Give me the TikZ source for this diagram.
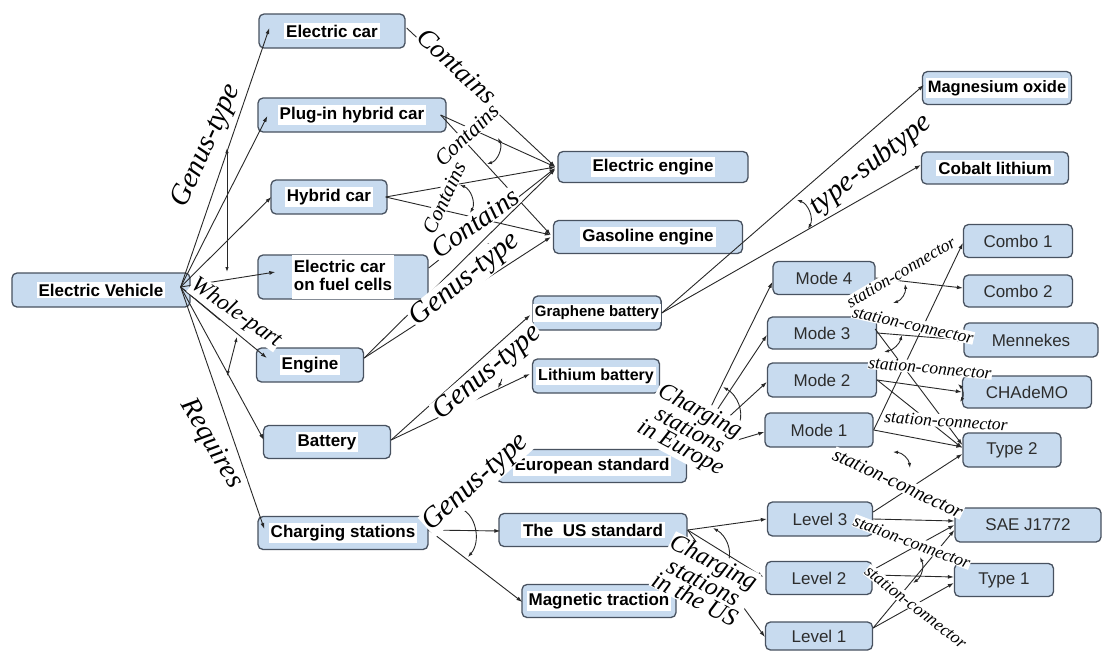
\documentclass[tikz,border=0pt]{standalone}
\usepackage{fontspec}
\setmainfont{Liberation Sans}
\newfontfamily\labfont{Liberation Serif}
\usetikzlibrary{arrows.meta,calc}
\definecolor{boxblue}{RGB}{200,219,239}
\definecolor{boxline}{RGB}{72,82,96}
\definecolor{edgec}{RGB}{40,40,40}
\definecolor{txt}{RGB}{45,45,45}
\setlength{\fboxsep}{2pt}
\newcommand\wt[1]{\colorbox{white}{#1}}
\begin{document}
\begin{tikzpicture}[x=1pt,y=-1pt,
  box/.style={draw=boxline, fill=boxblue, rounded corners=5pt, line width=1.3pt, inner sep=0pt,
    font=\fontsize{17}{22}\selectfont\bfseries, text=black},
  rbox/.style={box, font=\fontsize{17}{20}\selectfont, text=txt},
  edge/.style={draw=edgec, line width=0.9pt, -{Latex[length=6pt,width=4pt]}},
  amark/.style={draw=edgec, line width=0.9pt, {Latex[length=5pt,width=3.5pt]}-{Latex[length=5pt,width=3.5pt]}},
  plain/.style={draw=edgec, line width=0.9pt},
  lab/.style={font=\labfont\itshape\fontsize{#1}{#1}\selectfont, fill=white, inner sep=0.5pt, text=black},
  mlab/.style={font=\labfont\itshape\fontsize{#1}{19}\selectfont, fill=white, inner sep=0.5pt, text=black, align=center},
  ]
\fill[white] (0,0) rectangle (1106,651);
\useasboundingbox (0,0) rectangle (1106,651);

% ---------- nodes ----------
\node[box, minimum width=178pt, minimum height=34pt] (ev) at (101,290) {\wt{Electric Vehicle}};
\node[box, minimum width=146pt, minimum height=34pt] (ecar) at (332,31) {\wt{Electric car}};
\node[box, minimum width=188pt, minimum height=34pt] (plug) at (352,115) {\wt{Plug-in hybrid car}};
\node[box, minimum width=116pt, minimum height=34pt] (hyb) at (329,197) {\wt{Hybrid car}};
\node[box, minimum width=170pt, minimum height=43pt] (fuel) at (343,277) {\wt{\begin{tabular}{@{}l@{}}Electric car\\[-4pt]on fuel cells\end{tabular}}};
\node[box, minimum width=107pt, minimum height=34pt] (engine) at (310,365) {\wt{Engine}};
\node[box, minimum width=127pt, minimum height=33pt] (battery) at (327,442) {\wt{Battery}};
\node[box, minimum width=170pt, minimum height=33pt] (charging) at (343,533) {\wt{Charging stations}};
\node[box, minimum width=190pt, minimum height=31pt] (eeng) at (653,167) {\wt{Electric engine}};
\node[box, minimum width=189pt, minimum height=33pt] (geng) at (648,237) {\wt{Gasoline engine}};
\node[box, minimum width=149pt, minimum height=33pt, font=\fontsize{16.5}{20}\selectfont\bfseries] (mgo) at (997,88) {\wt{Magnesium oxide}};
\node[box, minimum width=147pt, minimum height=32pt] (colith) at (995,168) {\wt{Cobalt lithium}};
\node[box, minimum width=127pt, minimum height=34pt, font=\fontsize{15}{18}\selectfont\bfseries] (graph) at (597,313) {\wt{Graphene battery}};
\node[box, minimum width=127pt, minimum height=34pt, font=\fontsize{16}{19}\selectfont\bfseries] (lith) at (596,376) {\wt{Lithium battery}};
\node[box, minimum width=189pt, minimum height=33pt] (euro) at (592,466) {\wt{European standard}};
\node[box, minimum width=188pt, minimum height=33pt] (us) at (593,530) {\wt{The\ \ US standard}};
\node[box, minimum width=154pt, minimum height=33pt] (mag) at (599,601) {\wt{Magnetic traction}};
\node[rbox, minimum width=102pt, minimum height=33pt] (m4) at (824,278) {Mode 4};
\node[rbox, minimum width=109pt, minimum height=32pt] (m3) at (822,333) {Mode 3};
\node[rbox, minimum width=109pt, minimum height=34pt] (m2) at (822,380) {Mode 2};
\node[rbox, minimum width=108pt, minimum height=34pt] (m1) at (819,430) {Mode 1};
\node[rbox, minimum width=109pt, minimum height=33pt] (c1) at (1018,241) {Combo 1};
\node[rbox, minimum width=109pt, minimum height=32pt] (c2) at (1018,291) {Combo 2};
\node[rbox, minimum width=134pt, minimum height=34pt] (menn) at (1031,340) {Mennekes};
\node[rbox, minimum width=129pt, minimum height=32pt] (cha) at (1027,392) {CHAdeMO};
\node[rbox, minimum width=98pt, minimum height=34pt] (t2) at (1012,450) {Type 2};
\node[rbox, minimum width=146pt, minimum height=34pt] (sae) at (1028,525) {SAE J1772};
\node[rbox, minimum width=99pt, minimum height=33pt] (t1) at (1004,580) {Type 1};
\node[rbox, minimum width=105pt, minimum height=34pt] (l3) at (820,519) {Level 3};
\node[rbox, minimum width=106pt, minimum height=33pt] (l2) at (819,578) {Level 2};
\node[rbox, minimum width=107pt, minimum height=28pt] (l1) at (819,636) {Level 1};

% ---------- connectors ----------
\coordinate (evp) at ($(ev.east)+(-10,-3)$);
\draw[edge] (evp) -- ($(ecar.west)+(11,-3)$);
\draw[edge] (evp) -- ($(plug.west)+(10,1)$);
\draw[edge] (evp) -- ($(hyb.west)+(1,0)$);
\draw[edge] (evp) -- ($(fuel.west)+(18,-5)$);
\draw[edge] (evp) -- ($(engine.west)+(11,-7)$);
\draw[edge] (evp) -- ($(battery.west)+(1,-2)$);
\draw[edge] (evp) -- ($(charging.west)+(7,-4)$);

\draw[edge] ($(ecar.east)+(1,-3)$) -- ($(eeng.west)+(-2,0)$);
\draw[edge] ($(plug.east)+(-6,0)$) -- ($(eeng.west)+(-2,0)$);
\draw[edge] ($(plug.east)+(-6,0)$) -- ($(geng.west)+(-2,-2)$);
\draw[edge] ($(hyb.east)+(-2,0)$) -- ($(eeng.west)+(-2,0)$);
\draw[edge] ($(hyb.east)+(-2,0)$) -- ($(geng.west)+(-2,-2)$);
\draw[edge] ($(fuel.east)+(0,-9)$) -- ($(eeng.west)+(-2,1)$);
\draw[edge] ($(engine.east)+(0,-7)$) -- ($(eeng.west)+(-2,2)$);
\draw[edge] ($(engine.east)+(0,-7)$) -- ($(geng.west)+(-2,0)$);

\draw[edge] ($(battery.east)+(0,-2)$) -- ($(graph.west)+(-2,2)$);
\draw[edge] ($(battery.east)+(0,-2)$) -- ($(lith.west)+(-2,-2)$);
\draw[edge] (graph.east) -- ($(mgo.west)+(2,-3)$);
\draw[edge] (graph.east) -- ($(colith.west)+(0,-3)$);

\draw[edge] ($(charging.east)+(0,-3)$) -- ($(euro.west)+(3,4)$);
\draw[edge] ($(charging.east)+(0,-3)$) -- ($(us.west)+(2,1)$);
\draw[edge] ($(charging.east)+(0,-3)$) -- ($(mag.west)+(1,1)$);

\coordinate (eup) at ($(euro.east)+(0,-11)$);
\draw[edge] (eup) -- ($(m4.west)+(0,4)$);
\draw[edge] (eup) -- ($(m3.west)+(0,2)$);
\draw[edge] (eup) -- ($(m2.west)+(0,2)$);
\draw[edge] (eup) -- ($(m1.west)+(0,2)$);
\draw[edge] ($(euro.east)+(14,-24)$) -- ($(euro.east)+(1,-1)$);

\draw[edge] (us.east) -- (l3.west);
\draw[edge] (us.east) -- ($(l2.west)+(-2,-1)$);
\draw[edge] (us.east) -- ($(l1.west)+(0,1)$);

% station - connector
\draw[edge] (m4.east) -- ($(c2.west)+(0,-3)$);
\draw[edge] (m1.east) -- ($(c1.west)+(0,2)$);
\draw[edge] (m3.east) -- (menn.west);
\draw[edge] (m2.east) -- (cha.west);
\draw[edge] (m2.east) -- ($(t2.west)+(0,-2)$);
\draw[edge] (m1.east) -- ($(t2.west)+(0,-3)$);
\draw[edge] ($(m3.east)+(-2,-4)$) -- ($(t2.west)+(0,-5)$);
\draw[edge] ($(l3.east)+(0,-7)$) -- ($(t2.west)+(0,4)$);
\draw[edge] (l3.east) -- ($(sae.west)+(0,-4)$);
\draw[edge] ($(l2.east)+(0,-8)$) -- (sae.west);
\draw[edge] ($(l2.east)+(0,-3)$) -- ($(t1.west)+(0,-3)$);
\draw[edge] ($(l1.east)+(0,-8)$) -- ($(t1.west)+(0,3)$);
\draw[edge] ($(l1.east)+(0,-8)$) -- ($(sae.west)+(0,5)$);

% ---------- angle marks ----------
\draw[amark] (227,148) -- (227,272);
\draw[plain] (evp) -- (220,320);
\draw[amark] (237,337) -- (227,376);
\draw[amark] (498,138) to[bend left=50] (487,164);
\draw[amark] (460,185) to[bend left=50] (470,213);
\draw[amark] (487,243) to[bend left=40] (497,270);
\draw[amark] (490,353) to[bend left=40] (498,388);
\draw[amark] (797,200) to[bend left=50] (808,229);
\draw[amark] (460,508) to[bend left=50] (468,557);
\draw[amark] (723,387) to[bend left=40] (738,427);
\draw[amark] (713,528) to[bend left=40] (727,565);
\draw[amark] (905,284) to[bend left=40] (893,303);
\draw[amark] (902,335) to[bend left=30] (884,352);
\draw[amark] (893,452) to[bend left=40] (910,468);
\draw[amark] (920,557) to[bend left=40] (913,583);
\draw[amark] (958,384) to[bend left=40] (960,402);

% ---------- labels ----------
\node[lab=29, rotate=65.7] (lgen1) at (207,146) {Genus-type};
\node[lab=23, rotate=-35] (lwp) at (236,313) {Whole-part};
\node[lab=28, rotate=-59.4] (lreq) at (211,444) {Requires};
\node[lab=27, rotate=-42.5] (lcon1) at (457,66) {Contains};
\node[lab=22, rotate=44] (lcon2) at (467,135) {Contains};
\node[lab=21, rotate=65] (lcon3) at (444,198) {Contains};
\node[lab=28, rotate=35.5] (lcon4) at (475,223) {Contains};
\node[lab=29, rotate=39] (lgen2) at (465,280) {Genus-type};
\node[lab=29, rotate=40] (lgen3) at (488,373) {Genus-type};
\node[lab=29, rotate=42] (lgen4) at (476,483) {Genus-type};
\node[lab=29, rotate=38] (lts) at (871,165) {type-subtype};
\node[mlab=24, rotate=-28] (leu) at (690,430) {Charging\\stations\\in Europe};
\node[mlab=25, rotate=-27] (lus) at (705,580) {Charging\\stations\\in the US};
\node[lab=17.5, rotate=30.5] (s1) at (901,272) {station-connector};
\node[lab=17.5, rotate=-12.5] (s2) at (913,325) {station-connector};
\node[lab=17.5, rotate=-5] (s3) at (930,368) {station-connector};
\node[lab=17.5, rotate=-4] (s4) at (946,421) {station-connector};
\node[lab=20, rotate=-25] (s5) at (898,483) {station-connector};
\node[lab=17.5, rotate=-20.6] (s6) at (912,542) {station-connector};
\node[lab=17.5, rotate=-37.7] (s7) at (916,607) {station-connector};
\end{tikzpicture}
\end{document}
